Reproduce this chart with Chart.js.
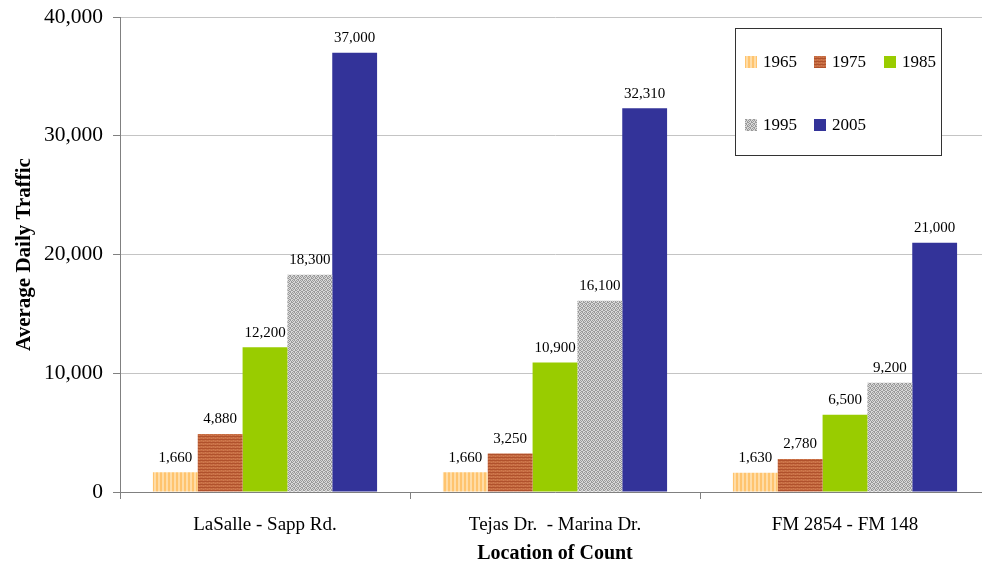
<!DOCTYPE html>
<html>
<head>
<meta charset="utf-8">
<script src="https://cdn.jsdelivr.net/npm/chart.js@4.4.1/dist/chart.umd.min.js"></script>
<style>
  html, body { margin: 0; padding: 0; background: #fff; overflow: hidden; }
  #chart { display: block; }
</style>
</head>
<body>
<canvas id="chart" width="990" height="562"></canvas>
<script>
const locations = ["LaSalle - Sapp Rd.", "Tejas Dr.  - Marina Dr.", "FM 2854 - FM 148"];
const years = ["1965", "1975", "1985", "1995", "2005"];
const traffic1965 = [1660, 1660, 1630];
const traffic1975 = [4880, 3250, 2780];
const traffic1985 = [12200, 10900, 6500];
const traffic1995 = [18300, 16100, 9200];
const traffic2005 = [37000, 32310, 21000];
const yTicks = [0, 10000, 20000, 30000, 40000];

const serif = "'Liberation Serif', 'Times New Roman', serif";

function makePattern(w, h, painter) {
  const c = document.createElement("canvas");
  c.width = w;
  c.height = h;
  painter(c.getContext("2d"));
  return document.getElementById("chart").getContext("2d").createPattern(c, "repeat");
}

const fill1965 = makePattern(4, 1, (g) => {
  g.fillStyle = "#ffc46e"; g.fillRect(0, 0, 4, 1);
  g.fillStyle = "#ffdca6"; g.fillRect(2, 0, 2, 1);
});
const fill1975 = makePattern(4, 3, (g) => {
  g.fillStyle = "#c66c42"; g.fillRect(0, 0, 4, 3);
  g.fillStyle = "#b0512c"; g.fillRect(0, 1, 4, 1);
  g.fillStyle = "#d07a50"; g.fillRect(1, 2, 1, 1); g.fillRect(3, 0, 1, 1);
});
const fill1995 = makePattern(4, 4, (g) => {
  g.fillStyle = "#d8d8d8"; g.fillRect(0, 0, 4, 4);
  g.fillStyle = "#9a9a9a";
  [[0,0],[2,0],[1,1],[3,2],[0,2],[2,3],[1,3],[3,1]].forEach(([x, y]) => g.fillRect(x, y, 1, 1));
});

const seriesFills = [fill1965, fill1975, "#99cc00", fill1995, "#333399"];
const seriesData = [traffic1965, traffic1975, traffic1985, traffic1995, traffic2005];

const barLabels = {
  id: "barLabels",
  afterDatasetsDraw(chart) {
    const ctx = chart.ctx;
    ctx.save();
    ctx.font = "15px " + serif;
    ctx.fillStyle = "#000";
    ctx.textAlign = "center";
    ctx.textBaseline = "bottom";
    chart.data.datasets.forEach((ds, i) => {
      chart.getDatasetMeta(i).data.forEach((bar, j) => {
        ctx.fillText(ds.data[j].toLocaleString("en-US"), bar.x, bar.y - 7);
      });
    });
    ctx.restore();
  }
};

const boxLegend = {
  id: "boxLegend",
  afterDraw(chart) {
    const ctx = chart.ctx;
    ctx.save();
    ctx.fillStyle = "#fff";
    ctx.fillRect(735, 28, 206, 127);
    ctx.strokeStyle = "#333";
    ctx.lineWidth = 1;
    ctx.strokeRect(735.5, 28.5, 206, 127);
    const spots = [[745, 62], [814, 62], [884, 62], [745, 125], [814, 125]];
    ctx.font = "17px " + serif;
    ctx.textBaseline = "middle";
    chart.data.datasets.forEach((ds, i) => {
      const [x, y] = spots[i];
      ctx.fillStyle = ds.backgroundColor;
      ctx.fillRect(x, y - 6, 12, 12);
      ctx.fillStyle = "#000";
      ctx.fillText(ds.label, x + 18, y + 1);
    });
    ctx.restore();
  }
};

new Chart(document.getElementById("chart"), {
  type: "bar",
  data: {
    labels: locations,
    datasets: years.map((year, i) => ({
      label: year,
      data: seriesData[i],
      backgroundColor: seriesFills[i],
      borderWidth: 0,
      categoryPercentage: 0.773,
      barPercentage: 1.0
    }))
  },
  options: {
    responsive: false,
    animation: false,
    layout: { padding: { top: 17, right: 0, left: 0, bottom: 0 } },
    plugins: {
      legend: { display: false },
      tooltip: { enabled: false }
    },
    scales: {
      x: {
        afterFit(scale) {
          scale.height = 70;
          scale.paddingLeft = 0;
          scale.paddingRight = 0;
        },
        grid: {
          offset: true,
          drawOnChartArea: false,
          drawTicks: true,
          tickLength: 7,
          tickColor: "#808080"
        },
        border: { color: "#808080", width: 1 },
        ticks: { color: "#000", font: { family: serif, size: 19 }, padding: 15 },
        title: {
          display: true,
          text: "Location of Count",
          color: "#000",
          font: { family: serif, size: 20, weight: "bold" },
          padding: { top: 4, bottom: -4 }
        }
      },
      y: {
        min: 0,
        max: 40000,
        afterBuildTicks(scale) {
          scale.ticks = yTicks.map((v) => ({ value: v }));
        },
        afterFit(scale) {
          scale.width = 120;
          scale.paddingTop = 0;
          scale.paddingBottom = 0;
        },
        grid: {
          color: "#c4c4c4",
          tickColor: "#808080",
          tickLength: 7
        },
        border: { color: "#808080", width: 1 },
        ticks: {
          color: "#000",
          font: { family: serif, size: 21.5 },
          padding: 10,
          callback: (v) => v.toLocaleString("en-US")
        },
        title: {
          display: true,
          text: "Average Daily Traffic",
          color: "#000",
          font: { family: serif, size: 21, weight: "bold" },
          padding: { top: 12, bottom: 0 }
        }
      }
    }
  },
  plugins: [barLabels, boxLegend]
});
</script>
</body>
</html>
